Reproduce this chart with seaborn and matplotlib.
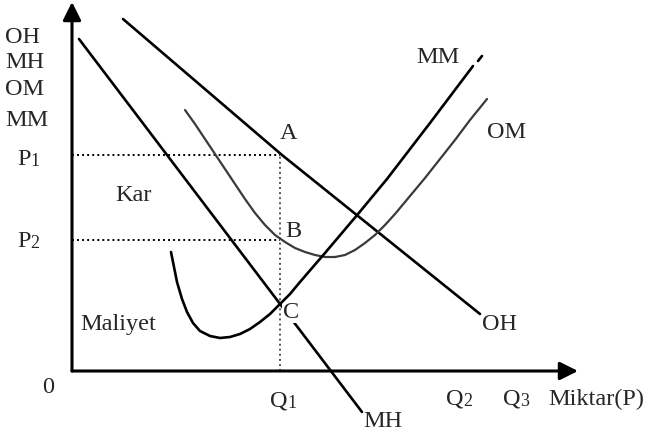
import numpy as np
import matplotlib
matplotlib.use("Agg")
import matplotlib.pyplot as plt
import seaborn as sns

# Curve data (quantity, price)
oh_q = np.array([51, 210, 408])          # OH - average revenue
oh_p = np.array([352, 216, 57])
mh_q = np.array([7, 290])                # MH - marginal revenue
mh_p = np.array([332, -41])
om_q = np.array([113, 123, 133, 143, 153, 163, 173, 183, 193, 203, 213, 223, 233, 243, 253,
                 263, 273, 283, 293, 303, 313, 323, 333, 343, 353, 368, 383, 398, 415])  # OM - average cost
om_p = np.array([261, 247, 232, 217, 202, 187, 172, 158, 146, 136, 129, 123, 119, 116, 114,
                 114, 116, 121, 128, 136, 146, 157, 169, 181, 193, 212, 231, 251, 272])
mm_q = np.array([99, 102, 105, 110, 115, 121, 128, 138, 148, 158, 168, 178, 188, 198, 207,
                 218, 228, 253, 286, 315, 358, 401])   # MM - marginal cost
mm_p = np.array([119, 104, 89, 72, 59, 48, 40, 35, 33, 34, 37, 42, 49, 57, 66,
                 77, 89, 118, 157, 192, 248, 305])
mm_tail_q = np.array([406, 410])
mm_tail_p = np.array([310, 315])

p1, p2, q1 = 216, 131, 208

sns.set_theme(style="white")
plt.rcParams["font.family"] = ["Liberation Serif", "DejaVu Serif"]

fig = plt.figure(figsize=(6.48, 4.35), dpi=100)
ax = fig.add_axes([0, 0, 1, 1])
ax.set_xlim(-72, 576)
ax.set_ylim(-63, 372)
ax.axis("off")

# axes with arrows
arrow = dict(arrowstyle="-|>,head_length=1.0,head_width=0.5", mutation_scale=11,
             lw=2.2, color="black", shrinkA=0, shrinkB=0)
ax.annotate("", xy=(0, 369), xytext=(0, 0), arrowprops=arrow)
ax.annotate("", xy=(506, 0), xytext=(0, 0), arrowprops=arrow)

# dotted guides
ax.plot([0, q1], [p1, p1], color="black", lw=1.4, ls=(0, (1, 1.6)))
ax.plot([0, q1], [p2, p2], color="black", lw=1.4, ls=(0, (1, 1.6)))
ax.plot([q1, q1], [0, p1], color="#555555", lw=1.4, ls=(0, (1, 1.6)))

# curves
sns.lineplot(x=oh_q, y=oh_p, sort=False, estimator=None, color="black", lw=1.9, ax=ax, zorder=3)
sns.lineplot(x=mh_q, y=mh_p, sort=False, estimator=None, color="black", lw=1.9, ax=ax, zorder=2)
sns.lineplot(x=om_q, y=om_p, sort=False, estimator=None, color="#3a3a3a", lw=1.6, ax=ax, zorder=3)
sns.lineplot(x=mm_q, y=mm_p, sort=False, estimator=None, color="black", lw=1.9, ax=ax, zorder=5)
sns.lineplot(x=mm_tail_q, y=mm_tail_p, sort=False, estimator=None, color="black", lw=1.9, ax=ax, zorder=5)

fs = 17.5
# y-axis legend labels
for yb, s in zip([329, 304, 277, 246], ["OH", "MH", "OM", "MM"]):
    ax.text(-67, yb, s, fontsize=fs, va="baseline", ha="left")


def sub_label(x, y, main, sub):
    t = ax.text(x, y, main, fontsize=fs, va="baseline", ha="left")
    ax.annotate(sub, xy=(1, 0), xycoords=t, fontsize=13, va="bottom", ha="left")


sub_label(-55, 207, "P", "1")
sub_label(-55, 125, "P", "2")
sub_label(198, -35, "Q", "1")
sub_label(374, -33, "Q", "2")
sub_label(431, -33, "Q", "3")

ax.text(-24, -21, "0", fontsize=fs, va="baseline", ha="center")
ax.text(476, -33, "Miktar(P)", fontsize=17.5, va="baseline", ha="left")
ax.text(43, 171, "Kar", fontsize=fs, va="baseline", ha="left")
ax.text(8, 42, "Maliyet", fontsize=fs, va="baseline", ha="left")
ax.text(208, 233, "A", fontsize=fs, va="baseline", ha="left")
ax.text(213, 135, "B", fontsize=fs, va="baseline", ha="left")
ax.text(211, 54, "C", fontsize=fs, va="baseline", ha="left", zorder=4,
        bbox=dict(facecolor="white", edgecolor="none", pad=0.5))
ax.text(344, 309, "MM", fontsize=fs, va="baseline", ha="left")
ax.text(415, 234, "OM", fontsize=fs, va="baseline", ha="left")
ax.text(410, 42, "OH", fontsize=fs, va="baseline", ha="left")
ax.text(291, -55, "MH", fontsize=fs, va="baseline", ha="left")

fig.savefig("out.png", dpi=100)
